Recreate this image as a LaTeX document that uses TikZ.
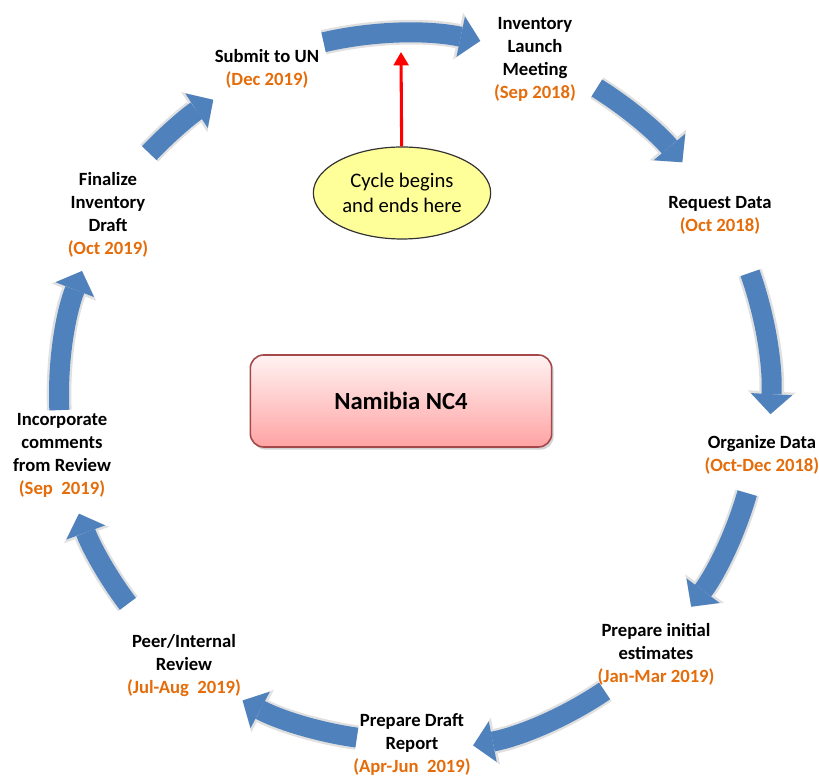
\documentclass[tikz,border=0pt]{standalone}
\usepackage{fontspec}
\setmainfont{Carlito}
\usepackage{xcolor}
\usetikzlibrary{arrows.meta, positioning, shapes.geometric, shadows, calc}
\definecolor{cycblue}{HTML}{4F81BD}
\definecolor{dateorange}{HTML}{E46C0A}
\definecolor{boxred}{HTML}{A5484A}
\definecolor{notefill}{HTML}{FFFF99}
\newcommand{\when}[1]{\\\textcolor{dateorange}{#1}}

\begin{document}
\begin{tikzpicture}[
  x=0.75pt, y=0.75pt,
  stage/.style={align=center, inner sep=0pt,
                font=\fontsize{14}{17.25}\selectfont\bfseries},
  cyc/.style={cycblue, line width=15pt,
              -{Triangle[length=15pt, width=31pt, line width=0pt]},
              preaction={draw=black!12, line width=18.5pt,
                         -{Triangle[length=17pt, width=36pt, line width=0pt]}}},
  titlebox/.style={rectangle, rounded corners=10pt, minimum width=226pt,
                   minimum height=69pt, draw=boxred, line width=1.2pt,
                   top color=red!5, bottom color=red!36,
                   drop shadow={opacity=0.35, shadow xshift=1.5pt, shadow yshift=-2pt},
                   font=\fontsize{18.5}{22}\selectfont\bfseries},
  startnote/.style={ellipse, draw=black!80, line width=0.9pt, fill=notefill,
                    minimum width=133pt, minimum height=69pt, inner sep=0pt,
                    align=center, font=\fontsize{15.5}{18.75}\selectfont},
  startarr/.style={red, line width=2.3pt, -{Triangle[length=10pt, width=11pt]}},
]
  \useasboundingbox (0,0) rectangle (819,778);

  \node[titlebox]  (title) at (401,377) {Namibia NC4};
  \node[startnote] (start) at (402,585) {Cycle begins\\and ends here};

  % stages round the cycle
  \node[stage] (launch)   at (535,719)   {Inventory\\Launch\\Meeting\when{(Sep 2018)}};
  \node[stage] (request)  at (720,562.5) {Request Data\when{(Oct 2018)}};
  \node[stage] (organize) at (762,323.5) {Organize Data\when{(Oct-Dec 2018)}};
  \node[stage] (estim)    at (656,124)   {Prepare initial\\estimates\when{(Jan-Mar 2019)}};
  \node[stage] (draft)    at (412,33.5)  {Prepare Draft\\Report\when{(Apr-Jun\ \ 2019)}};
  \node[stage] (review)   at (184,112)   {Peer/Internal\\Review\when{(Jul-Aug\ \ 2019)}};
  \node[stage] (comments) at (62,322.5)  {Incorporate\\comments\\from Review\when{(Sep\ \ 2019)}};
  \node[stage] (final)    at (108,563)   {Finalize\\Inventory\\Draft\when{(Oct 2019)}};
  \node[stage] (submit)   at (267,709)   {Submit to UN\when{(Dec 2019)}};

  % ring of arrows
  \coordinate (ctr) at (405,383);
  \draw[cyc] ($(ctr)+(103:362)$)   arc[start angle=103,   end angle=78,    radius=362];
  \draw[cyc] ($(ctr)+(58:362)$)    arc[start angle=58,    end angle=40,    radius=362];
  \draw[cyc] ($(ctr)+(19.5:366)$)  arc[start angle=19.5,  end angle=-3,    radius=366];
  \draw[cyc] ($(ctr)+(-16:356)$)   arc[start angle=-16,   end angle=-36.5, radius=356];
  \draw[cyc] ($(ctr)+(-56:357)$)   arc[start angle=-56,   end angle=-79,   radius=357];
  \draw[cyc] ($(ctr)+(-98:346)$)   arc[start angle=-98,   end angle=-118,  radius=346];
  \draw[cyc] ($(ctr)+(217:347)$)   arc[start angle=217,   end angle=200,   radius=347];
  \draw[cyc] ($(ctr)+(182.5:346)$) arc[start angle=182.5, end angle=159,   radius=346];
  \draw[cyc] ($(ctr)+(136.6:352)$) arc[start angle=136.6, end angle=123,   radius=352];

  \coordinate (entry) at (401,726);
  \draw[startarr] (start) -- (entry);
\end{tikzpicture}
\end{document}
